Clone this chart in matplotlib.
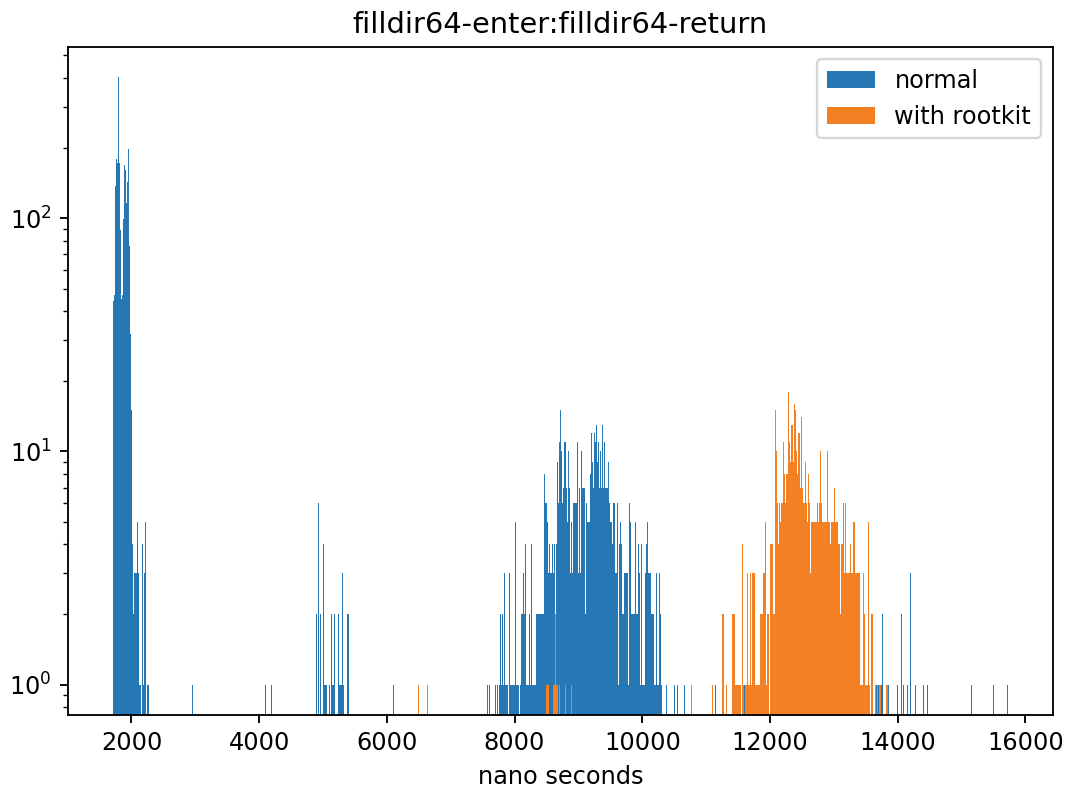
import numpy as np
import matplotlib
matplotlib.use("Agg")
import matplotlib.pyplot as plt

plt.rcParams['font.size'] = 10.4

# histogram ranges (ns) and bin count used for both series
normal_range = (1707, 15730)
rootkit_range = (6490, 15700)
n_bins = 1000

# --- normal: counts per bin, contiguous segments (first bin centre given) ---
normal_peak_start = 1714
normal_peak_counts = [44, 47, 81, 137, 179, 173, 403, 173, 89, 45, 47, 71, 99, 169,
                      161, 116, 143, 198, 76, 32, 15, 7, 4, 2, 3, 3, 3, 5, 3, 1,
                      1, 1, 0, 4, 1, 3, 5, 0, 1, 1, 2]

normal_mid_start = 7576
normal_mid_counts = [
    1, 0, 1, 0, 0, 0, 0, 0, 0, 1, 0, 1, 0, 1, 1, 2, 1, 2, 1, 3,      # 418-437
    1, 1, 1, 1, 0, 3, 1, 1, 1, 1, 1, 5, 1, 1, 1, 1, 0, 1, 2, 2,      # 438-457
    3, 2, 4, 1, 1, 1, 1, 2, 1, 4, 1, 1, 3, 1, 1, 2, 2, 2, 2, 2,      # 458-477
    2, 2, 7, 2, 8, 6, 6, 5, 3, 4, 3, 3, 3, 4, 3, 4, 2, 4, 9, 6,      # 478-497
    11, 6, 15, 10, 6, 7, 11, 11, 7, 5, 3, 10, 7, 3, 5, 3, 6, 6, 6, 6,  # 498-517
    6, 11, 3, 7, 3, 10, 7, 7, 7, 2, 5, 6, 5, 5, 5, 8, 12, 9, 7, 8,  # 518-537
    12, 11, 13, 9, 11, 7, 10, 7, 13, 6, 7, 11, 7, 7, 7, 9, 6, 5, 6, 5,  # 538-557
    4, 6, 6, 3, 3, 6, 1, 4, 2, 5, 4, 2, 2, 3, 3, 3, 3, 4, 1, 6,      # 558-577
    5, 2, 2, 2, 2, 5, 2, 3, 2, 4, 3, 1, 4, 1, 1, 1, 3, 3, 4, 5,      # 578-597
    3, 3, 3, 2, 2, 2, 2, 1, 1, 3, 1, 1, 3, 2, 1, 0, 1, 0, 0, 0,      # 598-617
    1, 0, 0, 0, 0, 1, 0, 0, 0, 1, 0, 0, 1, 0, 0, 0, 0, 0, 0, 0, 1,   # 618-638
]

# --- normal: isolated bars ---
normal_sparse_ns = [2962, 4098, 4196, 4547, 4827, 4898, 4926, 4954, 4968, 5010,
                    5024, 5038, 5052, 5094, 5108, 5136, 5150, 5164, 5178, 5248,
                    5262, 5276, 5290, 5304, 5318, 5388, 5402, 6104,
                    11153, 11545, 11602, 13228, 13509, 13663, 13691, 13705, 13747,
                    13761, 13859, 13943, 14000, 14056, 14098, 14154, 14196, 14280,
                    14406, 14462, 15163, 15500, 15723]
normal_sparse_counts = [1, 1, 1, 1, 2, 2, 6, 1, 2, 4,
                        1, 1, 1, 1, 1, 2, 1, 1, 2, 2,
                        1, 1, 1, 3, 1, 2, 2, 1,
                        1, 1, 1, 2, 1, 1, 1, 1, 1,
                        2, 1, 1, 1, 2, 1, 1, 3, 1,
                        1, 1, 1, 1, 1]

# --- with rootkit: main cluster, counts per bin ---
rootkit_core_start = 11100
rootkit_core_counts = [
    1, 0, 0, 0, 1, 0, 0, 0, 0, 0, 0, 1, 0, 0, 0, 0, 0, 2, 0, 2,      # 500-519
    0, 1, 0, 0, 1, 0, 0, 0, 0, 0, 0, 0, 0, 2, 2, 2, 2, 2, 1, 1,      # 520-539
    0, 1, 1, 1, 1, 1, 1, 1, 1, 0, 1, 4, 1, 1, 0, 1, 1, 1, 1, 1,      # 540-559
    3, 1, 1, 1, 1, 3, 1, 1, 3, 3, 3, 3, 3, 1, 1, 1, 2, 1, 1, 1,      # 560-579
    1, 1, 2, 2, 2, 2, 2, 3, 3, 3, 5, 3, 1, 2, 2, 2, 2, 0, 2, 4,      # 580-599
    4, 4, 4, 5, 2, 2, 4, 15, 4, 10, 4, 6, 4, 9, 6, 10, 5, 6, 11, 6,  # 600-619
    7, 11, 8, 19, 6, 6, 8, 13, 8, 18, 8, 11, 13, 9, 13, 9, 13, 10, 9, 16,  # 620-639
    9, 15, 8, 10, 6, 8, 12, 8, 12, 8, 7, 14, 7, 7, 9, 6, 6, 7, 9, 6,  # 640-659
    6, 5, 5, 8, 8, 6, 10, 3, 5, 4, 5, 7, 5, 5, 6, 5, 4, 5, 7, 6,     # 660-679
    5, 5, 6, 8, 10, 6, 9, 5, 4, 5, 5, 6, 5, 6, 5, 2, 10, 5, 7, 5,    # 680-699
    11, 4, 5, 8, 5, 6, 5, 5, 7, 5, 7, 5, 9, 5, 4, 7, 4, 9, 2, 4,     # 700-719
    8, 4, 4, 6, 3, 3, 6, 4, 3, 8, 3, 3, 4, 3, 5, 4, 3, 5, 3, 3,      # 720-739
    5, 3, 5, 3, 4, 3, 3, 3, 3, 3, 3, 3, 1, 1, 1, 1, 1, 3, 1, 2,      # 740-759
    1, 2, 1, 2, 1, 5, 4, 1, 1, 0, 2, 1, 2, 1, 0, 2, 0, 1, 1, 0,      # 760-779
    1, 1,                                                            # 780-781
]

# --- with rootkit: isolated bars ---
rootkit_sparse_ns = [6495, 6568, 6633, 6642, 7646, 8226, 8401, 8447, 8493, 8503,
                     8512, 8521, 8530, 8604, 8613, 8622, 8631, 8641, 8650, 8659,
                     8668, 8705, 8714, 8797, 8889, 10483, 10768,
                     13715, 13734, 13826, 13844, 13862, 14176, 15695]
rootkit_sparse_counts = [1, 1, 1, 1, 1, 1, 1, 1, 1, 1,
                         1, 1, 1, 1, 1, 1, 1, 2, 1, 1,
                         1, 1, 1, 1, 1, 1, 1,
                         1, 1, 1, 1, 1, 1, 1]


def segment(start, counts, rng):
    step = (rng[1] - rng[0]) / n_bins
    return start + step * np.arange(len(counts)), np.array(counts)


nx_a, nc_a = segment(normal_peak_start, normal_peak_counts, normal_range)
nx_b, nc_b = segment(normal_mid_start, normal_mid_counts, normal_range)
normal_x = np.concatenate([nx_a, nx_b, normal_sparse_ns])
normal_w = np.concatenate([nc_a, nc_b, normal_sparse_counts])

rx_a, rc_a = segment(rootkit_core_start, rootkit_core_counts, rootkit_range)
rootkit_x = np.concatenate([rx_a, rootkit_sparse_ns])
rootkit_w = np.concatenate([rc_a, rootkit_sparse_counts])

fig = plt.figure(figsize=(6.4, 4.722), dpi=166.7)
ax = fig.add_subplot(111)
fig.subplots_adjust(left=0.0637, right=0.9869, top=0.9403, bottom=0.0915)

ax.hist(normal_x, bins=n_bins, range=normal_range, weights=normal_w,
        log=True, color='#2677b4', label='normal')
ax.hist(rootkit_x, bins=n_bins, range=rootkit_range, weights=rootkit_w,
        log=True, color='#f48024', label='with rootkit')

ax.set_title('filldir64-enter:filldir64-return')
ax.set_xlabel('nano seconds')
ax.legend()

fig.savefig('out.png', dpi=166.7)
